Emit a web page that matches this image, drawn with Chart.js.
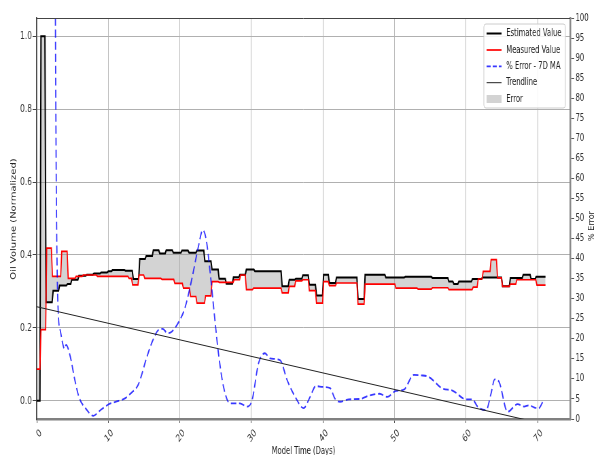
<!DOCTYPE html>
<html>
<head>
<meta charset="utf-8">
<script src="https://cdn.jsdelivr.net/npm/chart.js@4"></script>
<style>
  body { margin: 0; background: #fff; overflow: hidden; }
  /* la figura original está comprimida en horizontal */
  #marco { width: 880px; height: 455px; transform: scaleX(0.67955); transform-origin: 0 0; }
</style>
</head>
<body>
<div id="marco"><canvas id="grafico" width="880" height="455"></canvas></div>
<script>
    // Valor estimado: día en que empieza cada nivel y su valor
    var estDays = [0, 0.6, 1.3, 2.3, 3.2, 4.3, 4.9, 5.9, 7.0, 8.0, 9.0, 10.0, 10.6, 12.4, 13.5, 14.4, 15.3, 16.3, 17.2, 18.1,
                   19.1, 20.3, 21.3, 22.4, 23.5, 24.5, 25.5, 26.5, 27.5, 28.4, 29.3, 30.5, 34.3, 35.3, 36.2, 37.2, 38.1, 39.1,
                   40.1, 40.9, 41.9, 44.9, 45.9, 48.8, 51.5, 55.3, 57.6, 58.3, 59.0, 60.9, 62.3, 65.1, 66.2, 68.0, 69.1, 69.8, 71.1];
    var estVals = [0, 1.0, 0.27, 0.302, 0.316, 0.32, 0.332, 0.343, 0.346, 0.349, 0.352, 0.355, 0.359, 0.357, 0.334, 0.389, 0.397, 0.413, 0.404, 0.413,
                   0.406, 0.412, 0.406, 0.412, 0.383, 0.36, 0.335, 0.321, 0.339, 0.346, 0.36, 0.355, 0.314, 0.332, 0.335, 0.344, 0.318, 0.289,
                   0.346, 0.323, 0.338, 0.279, 0.346, 0.338, 0.34, 0.337, 0.327, 0.32, 0.327, 0.334, 0.338, 0.314, 0.337, 0.346, 0.334, 0.34, 0.34];

    // Valor medido
    var measDays = [0, 0.6, 1.4, 2.2, 3.5, 4.4, 5.5, 6.5, 8.5, 12.9, 13.4, 14.3, 15.1, 17.5, 19.3, 20.5, 21.5, 22.4, 23.6, 24.5,
                    25.5, 27.6, 28.5, 29.3, 30.3, 34.3, 35.3, 36.2, 37.2, 38.1, 39.1, 40.1, 40.9, 41.9, 44.9, 45.9, 50.2, 53.3,
                    55.3, 57.6, 61.0, 61.7, 62.4, 63.5, 64.4, 65.1, 66.2, 67.1, 69.9, 71.1];
    var measVals = [0.087, 0.195, 0.419, 0.341, 0.41, 0.336, 0.341, 0.345, 0.341, 0.336, 0.318, 0.345, 0.336, 0.333, 0.322, 0.309, 0.286, 0.268, 0.288, 0.327,
                    0.325, 0.332, 0.345, 0.305, 0.309, 0.296, 0.314, 0.329, 0.332, 0.302, 0.268, 0.327, 0.316, 0.323, 0.265, 0.32, 0.309, 0.306,
                    0.31, 0.305, 0.312, 0.334, 0.355, 0.387, 0.337, 0.314, 0.32, 0.332, 0.317, 0.317];

    // % de error, media móvil de 7 días (eje derecho)
    var maDays = [2.5, 2.75, 3.0, 3.3, 3.9, 4.1, 4.7, 5.3, 5.9, 6.9, 7.9, 8.9, 9.9, 11.0, 12.2, 13.2, 14.2, 15.4, 16.2, 17.0,
                  17.6, 18.3, 18.9, 20.0, 20.7, 21.7, 22.6, 23.2, 23.7, 24.2, 24.9, 25.4, 26.1, 27.0, 28.4, 29.4, 30.1, 31.0,
                  31.9, 32.6, 34.0, 35.0, 36.1, 37.3, 38.2, 39.0, 40.0, 41.0, 41.7, 42.4, 43.6, 45.2, 46.4, 47.9, 49.0, 50.2,
                  51.3, 52.7, 53.7, 54.8, 56.7, 58.1, 60.0, 60.9, 61.6, 62.8, 63.5, 64.0, 64.6, 65.8, 67.2, 68.1, 68.8, 69.5, 70.1, 70.9];
    var maVals = [145, 55, 27, 22, 17.5, 18.5, 15.5, 10, 5.5, 2.5, 0.8, 2.2, 3.5, 4.3, 5, 6.5, 8.6, 15.5, 19.5, 22.2,
                  22.5, 21.4, 21.8, 24.7, 27.6, 35.1, 43, 47.1, 44.6, 37.2, 24.7, 16.4, 8.1, 3.9, 3.9, 3.1, 4.7, 13.9,
                  16.4, 15.1, 14.7, 9.7, 5.6, 2.7, 5.5, 8.2, 8.0, 7.7, 5, 4.3, 4.9, 5, 5.8, 6.3, 5.5, 7.0,
                  7.3, 11, 10.9, 10.5, 7.6, 7.1, 4.9, 4.9, 3.1, 2.2, 6.4, 9.9, 9.3, 1.8, 3.7, 3.1, 3.4, 2.9, 2.6, 4.9];

    // Línea de tendencia (eje derecho)
    var trendDays = [0, 71];
    var trendVals = [28.0, -1.3];

    // Marcas de los ejes
    var xTicks = [0, 10, 20, 30, 40, 50, 60, 70];
    var yTicks = [0, 0.2, 0.4, 0.6, 0.8, 1.0];
    var y2Ticks = [0, 5, 10, 15, 20, 25, 30, 35, 40, 45, 50, 55, 60, 65, 70, 75, 80, 85, 90, 95, 100];

    var RAMPA = 0.15;
    var FUENTE = "'DejaVu Sans'";

    function pares(xs, ys) {
        return xs.map(function (x, i) { return {x: x, y: ys[i]}; });
    }

    // cada nivel se mantiene hasta el siguiente cambio
    function escalones(dias, vals) {
        var pts = [];
        for (var i = 0; i < dias.length; i++) {
            pts.push({x: dias[i], y: vals[i]});
            if (i < dias.length - 1) pts.push({x: dias[i + 1] - RAMPA, y: vals[i]});
        }
        return pts;
    }

    function fijarTicks(lista) {
        return function (s) { s.ticks = lista.map(function (v) { return {value: v}; }); };
    }

    // borde superior, títulos de ejes y leyenda
    var decoracion = {
        id: 'decoracion',
        afterDraw: function (chart) {
            var ctx = chart.ctx, a = chart.chartArea, ds = chart.data.datasets;
            ctx.save();
            ctx.strokeStyle = '#444';
            ctx.lineWidth = 1;
            ctx.beginPath();
            ctx.moveTo(a.left, a.top + 0.5);
            ctx.lineTo(a.right, a.top + 0.5);
            ctx.stroke();

            ctx.fillStyle = '#222';
            ctx.font = '10px ' + FUENTE;
            ctx.textAlign = 'center';
            ctx.textBaseline = 'middle';
            ctx.save();
            ctx.translate(20.5, 219);
            ctx.rotate(-Math.PI / 2);
            ctx.fillText('Oil Volume (Normalized)', 0, 0);
            ctx.restore();
            ctx.save();
            ctx.translate(871, 226);
            ctx.rotate(-Math.PI / 2);
            ctx.scale(0.62, 1);
            ctx.font = '13px ' + FUENTE;
            ctx.fillText('% Error', 0, 0);
            ctx.restore();
            ctx.textBaseline = 'top';
            ctx.fillText('Model Time (Days)', (a.left + a.right) / 2, 446);

            // leyenda
            var lx = 712, ly = 24;
            ctx.beginPath();
            ctx.roundRect(lx, ly, 120, 84, 3);
            ctx.fillStyle = 'rgba(255,255,255,0.85)';
            ctx.fill();
            ctx.strokeStyle = '#cccccc';
            ctx.stroke();
            var filas = [33.5, 50, 66.3, 82.7, 99];
            ctx.textAlign = 'left';
            ctx.textBaseline = 'middle';
            ctx.font = '10px ' + FUENTE;
            for (var i = 0; i < ds.length; i++) {
                ctx.save();
                ctx.strokeStyle = ds[i].borderColor;
                ctx.lineWidth = ds[i].borderWidth;
                if (ds[i].borderDash) ctx.setLineDash([6, 3]);
                ctx.beginPath();
                ctx.moveTo(716, filas[i]);
                ctx.lineTo(738, filas[i]);
                ctx.stroke();
                ctx.restore();
                ctx.fillStyle = '#222';
                ctx.fillText(ds[i].label, 745, filas[i]);
            }
            ctx.fillStyle = ds[0].backgroundColor;
            ctx.fillRect(716, filas[4] - 4, 22, 8);
            ctx.fillStyle = '#222';
            ctx.fillText('Error', 745, filas[4]);
            ctx.restore();
        }
    };

    Chart.defaults.font.family = FUENTE;
    Chart.defaults.color = '#333';

    var ctx = document.getElementById('grafico').getContext('2d');

    var grafico = new Chart(ctx, {
        type: 'line',
        data: {
            datasets: [{
                label: 'Estimated Value',
                data: escalones(estDays, estVals),
                borderColor: '#000000',
                borderWidth: 2,
                backgroundColor: 'rgba(150,150,150,0.42)',
                fill: '+1',
                pointRadius: 0,
                yAxisID: 'y',
                order: 3
            }, {
                label: 'Measured Value',
                data: escalones(measDays, measVals),
                borderColor: '#ff0000',
                borderWidth: 1.7,
                fill: false,
                pointRadius: 0,
                yAxisID: 'y',
                order: 2
            }, {
                label: '% Error - 7D MA',
                data: pares(maDays, maVals),
                borderColor: 'rgba(0,0,255,0.78)',
                borderWidth: 1.8,
                borderDash: [8, 4],
                cubicInterpolationMode: 'monotone',
                fill: false,
                pointRadius: 0,
                yAxisID: 'y2',
                order: 1
            }, {
                label: 'Trendline',
                data: pares(trendDays, trendVals),
                borderColor: '#222222',
                borderWidth: 1,
                fill: false,
                pointRadius: 0,
                yAxisID: 'y2',
                order: 0
            }]
        },
        options: {
            responsive: false,
            animation: false,
            devicePixelRatio: 1,
            layout: { padding: { top: 18, left: 0, right: 0, bottom: 0 } },
            plugins: { legend: { display: false }, tooltip: { enabled: false } },
            scales: {
                x: {
                    type: 'linear', min: 0, max: 74.55,
                    afterBuildTicks: fijarTicks(xTicks),
                    afterFit: function (s) { s.height = 36; },
                    grid: { color: '#bcbcbc', tickLength: 4, tickColor: '#555' },
                    border: { color: '#808080', width: 2.5 },
                    ticks: { minRotation: 45, maxRotation: 45, labelOffset: 6, padding: 4, autoSkip: false,
                             font: { size: 10.5 }, callback: function (v) { return String(v); } }
                },
                y: {
                    position: 'left', min: -0.05, max: 1.05,
                    afterBuildTicks: fijarTicks(yTicks),
                    afterFit: function (s) { s.width = 54; },
                    grid: { color: '#b0b0b0', tickLength: 6, tickColor: '#444' },
                    border: { color: '#444', width: 1.5 },
                    ticks: { padding: 1, font: { size: 11 }, callback: function (v) { return v.toFixed(1); } }
                },
                y2: {
                    position: 'right', min: 0, max: 100,
                    afterBuildTicks: fijarTicks(y2Ticks),
                    afterFit: function (s) { s.width = 41; },
                    grid: { drawOnChartArea: false, tickLength: 6, tickColor: '#555' },
                    border: { color: '#888', width: 2.5 },
                    ticks: { padding: 2, autoSkip: false, font: { size: 10 }, callback: function (v) { return String(v); } }
                }
            }
        },
        plugins: [decoracion]
    });
</script>
</body>
</html>
